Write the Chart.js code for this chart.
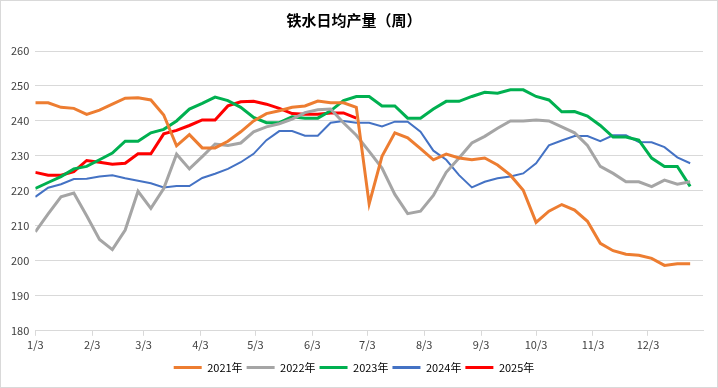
<!DOCTYPE html>
<html>
<head>
<meta charset="utf-8">
<script src="https://cdn.jsdelivr.net/npm/chart.js@4"></script>
<style>
  html, body { margin: 0; padding: 0; background: #fff; }
  #wrap { width: 718px; height: 388px; box-sizing: border-box; border: 1px solid #d9d9d9; position: relative; }
</style>
</head>
<body>
<div id="wrap"><canvas id="grafica"></canvas></div>
<script>
// dias desde el 3 de enero para cada etiqueta mensual
const diasMes = [0, 31, 59, 90, 120, 151, 181, 212, 243, 273, 304, 334];
const etiquetasMes = ["1/3", "2/3", "3/3", "4/3", "5/3", "6/3", "7/3", "8/3", "9/3", "10/3", "11/3", "12/3"];

const serie2021 = [245.2, 245.2, 243.9, 243.6, 241.9, 243.1, 244.8, 246.5, 246.6, 246.0,
  241.7, 232.9, 236.1, 232.3, 232.3, 234.2, 236.9, 240.0, 242.1, 242.9,
  243.9, 244.3, 245.7, 245.2, 245.2, 243.9, 216.3, 229.9, 236.6, 235.2,
  232.1, 228.9, 230.5, 229.4, 228.9, 229.4, 227.4, 224.5, 220.2, 211.0,
  214.2, 216.1, 214.5, 211.3, 205.0, 202.9, 201.9, 201.6, 200.7, 198.7,
  199.2, 199.2];
const serie2022 = [208.3, 213.4, 218.3, 219.4, 212.9, 206.1, 203.2, 208.8, 219.9, 215.0,
  220.7, 230.5, 226.3, 229.8, 233.4, 233.0, 233.7, 236.9, 238.3, 239.2,
  240.5, 242.4, 243.2, 243.4, 239.5, 235.9, 231.3, 226.5, 219.0, 213.5,
  214.2, 218.7, 225.3, 229.4, 233.7, 235.6, 237.9, 240.0, 240.0, 240.3,
  240.0, 238.3, 236.6, 233.0, 227.0, 225.0, 222.6, 222.6, 221.2, 223.1,
  221.9, 222.6];
const serie2023 = [220.7, 222.4, 224.1, 226.3, 227.0, 228.9, 230.8, 234.2, 234.2, 236.6,
  237.6, 240.0, 243.4, 245.0, 246.8, 245.8, 243.9, 241.0, 239.5, 239.5,
  241.2, 240.8, 240.8, 242.9, 245.8, 247.0, 247.0, 244.3, 244.3, 240.8,
  240.8, 243.4, 245.6, 245.6, 247.0, 248.2, 247.9, 248.9, 248.9, 247.0,
  246.0, 242.6, 242.7, 241.4, 238.7, 235.4, 235.4, 234.5, 229.4, 227.0,
  227.0, 221.3];
const serie2024 = [218.3, 220.9, 221.9, 223.4, 223.5, 224.1, 224.5, 223.6, 222.9, 222.2,
  221.0, 221.4, 221.4, 223.7, 224.9, 226.3, 228.2, 230.6, 234.5, 237.1,
  237.1, 235.8, 235.8, 239.5, 240.0, 239.5, 239.5, 238.4, 239.8, 239.8,
  236.9, 231.5, 228.9, 224.5, 221.0, 222.6, 223.6, 224.1, 225.0, 227.9,
  233.0, 234.4, 235.7, 235.7, 234.2, 235.9, 235.9, 234.0, 233.9, 232.5,
  229.6, 227.9];
const serie2025 = [225.3, 224.5, 224.5, 225.5, 228.7, 228.2, 227.6, 227.9, 230.6, 230.6,
  236.3, 237.3, 238.7, 240.3, 240.3, 244.3, 245.5, 245.6, 244.8, 243.6,
  242.1, 241.9, 241.9, 242.3, 242.3, 240.8];

const nombres = ["2021年", "2022年", "2023年", "2024年", "2025年"];
const colores = ["#ED7D31", "#A5A5A5", "#00B050", "#4472C4", "#FF0000"];
const grosores = [3, 3, 3, 2, 3];
const series = [serie2021, serie2022, serie2023, serie2024, serie2025];

// cada punto es una semana (7 dias)
function aPuntos(valores){
    return valores.map((v, i) => ({x: i * 7, y: v}));
}

const fuente = "'Noto Sans CJK SC', 'DejaVu Sans', sans-serif";

const grafica = new Chart(
    "grafica",
    {
        type: "line",
        data: {
            datasets: series.map((s, k) => ({
                label: nombres[k],
                data: aPuntos(s),
                borderColor: colores[k],
                backgroundColor: colores[k],
                borderWidth: grosores[k],
                pointRadius: 0,
                tension: 0,
                fill: false
            }))
        },
        options: {
            responsive: true,
            maintainAspectRatio: false,
            animation: false,
            layout: { padding: { left: 4, right: 14, top: 6, bottom: 4 } },
            scales: {
                x: {
                    type: "linear",
                    min: 0,
                    max: 364,
                    afterBuildTicks: (axis) => {
                        axis.ticks = diasMes.map(d => ({value: d}));
                    },
                    afterFit: (axis) => { axis.height += 5; },
                    ticks: {
                        autoSkip: false,
                        maxRotation: 0,
                        color: "#404040",
                        font: { family: fuente, size: 11 },
                        padding: 2,
                        callback: (value) => etiquetasMes[diasMes.indexOf(value)]
                    },
                    grid: {
                        drawOnChartArea: false,
                        drawTicks: true,
                        tickLength: 5,
                        color: "#d9d9d9"
                    },
                    border: { color: "#d9d9d9" }
                },
                y: {
                    min: 180,
                    max: 260,
                    ticks: {
                        stepSize: 10,
                        color: "#404040",
                        font: { family: fuente, size: 11 },
                        padding: 6
                    },
                    grid: { color: "#d9d9d9", drawTicks: false },
                    border: { display: false }
                }
            },
            plugins: {
                title: {
                    display: true,
                    text: "铁水日均产量（周）",
                    color: "#000",
                    font: { family: fuente, size: 15, weight: "bold" },
                    padding: { top: 4, bottom: 22 }
                },
                legend: {
                    position: "bottom",
                    labels: {
                        boxWidth: 28,
                        boxHeight: 3,
                        padding: 4,
                        color: "#404040",
                        font: { family: fuente, size: 11 },
                        generateLabels: (chart) => chart.data.datasets.map((ds, i) => ({
                            text: ds.label,
                            fillStyle: ds.borderColor,
                            strokeStyle: ds.borderColor,
                            lineWidth: 0,
                            datasetIndex: i
                        }))
                    }
                },
                tooltip: { enabled: false }
            }
        }
    }
);
</script>
</body>
</html>
